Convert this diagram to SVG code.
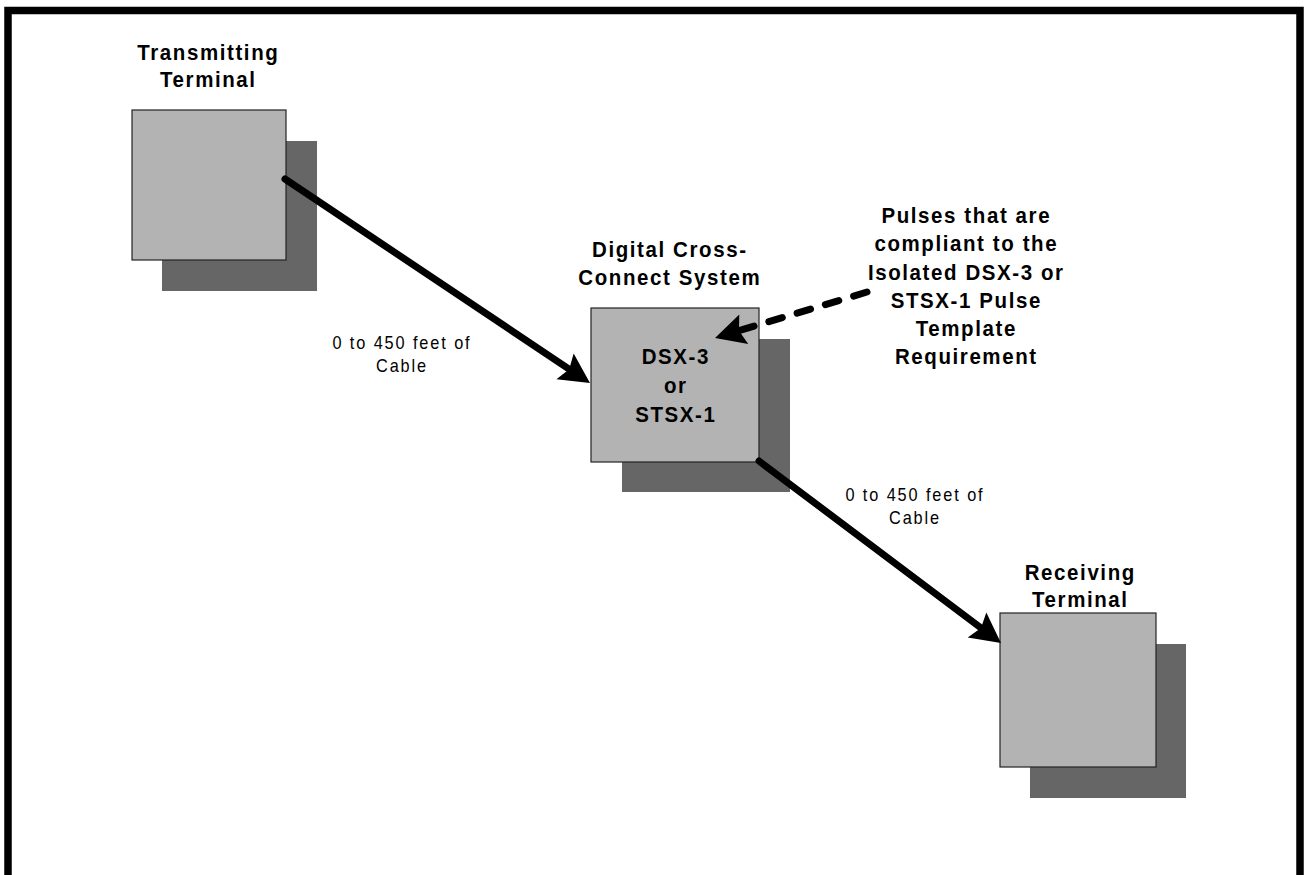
<svg xmlns="http://www.w3.org/2000/svg" width="1304" height="875" viewBox="0 0 1304 875">
  <style>
    .frame { fill: none; stroke: #000; stroke-width: 7.5; }
    .shadow { fill: #666666; }
    .box { fill: #b3b3b3; stroke: #222; stroke-width: 1.2; }
    .t { font-family: "Liberation Sans", Arial, Helvetica, sans-serif; font-weight: bold; font-size: 20.5px; letter-spacing: 1.6px; text-anchor: middle; fill: #000; }
    .l { font-family: "Liberation Sans", Arial, Helvetica, sans-serif; font-weight: normal; font-size: 16.3px; letter-spacing: 1.9px; text-anchor: middle; fill: #000; }
    .wire { fill: none; stroke: #000; stroke-width: 7; stroke-linecap: round; }
    .dash { stroke-dasharray: 14 15.5; }
  </style>
  <defs>
    <marker id="head" markerUnits="userSpaceOnUse" viewBox="-10 -17 34 34" refX="0" refY="0" markerWidth="34" markerHeight="34" orient="auto">
      <path d="M22,0 L-8,-15.5 L-3,0 L-8,15.5 Z" fill="#000"/>
    </marker>
  </defs>
  <rect width="1304" height="875" fill="#fff"/>
  <rect class="frame" x="8" y="10.5" width="1292" height="900"/>

  <g id="transmitting-terminal">
    <rect class="shadow" x="162" y="141" width="155" height="150"/>
    <rect class="box" x="132" y="110" width="154" height="150"/>
    <text class="t" transform="translate(208.3,60) scale(1,1.1)"><tspan x="0" y="0">Transmitting</tspan><tspan x="0" dy="24.5">Terminal</tspan></text>
  </g>

  <g id="dcs">
    <rect class="shadow" x="622" y="339" width="168" height="153"/>
    <rect class="box" x="591" y="308" width="168" height="154"/>
    <text class="t" transform="translate(669.8,256.7) scale(1,1.1)"><tspan x="0" y="0">Digital Cross-</tspan><tspan x="0" dy="25.7">Connect System</tspan></text>
    <text class="t" transform="translate(675.8,364) scale(1,1.1)"><tspan x="0" y="0">DSX-3</tspan><tspan x="0" dy="26.2">or</tspan><tspan x="0" dy="26.2">STSX-1</tspan></text>
  </g>

  <g id="receiving-terminal">
    <rect class="shadow" x="1030" y="644" width="156" height="154"/>
    <rect class="box" x="1000" y="613" width="156" height="154"/>
    <text class="t" transform="translate(1080.3,580) scale(1,1.1)"><tspan x="0" y="0">Receiving</tspan><tspan x="0" dy="24.5">Terminal</tspan></text>
  </g>

  <g id="pulses-note">
    <text class="t" transform="translate(966.3,223.3) scale(1,1.1)"><tspan x="0" y="0">Pulses that are</tspan><tspan x="0" dy="25.6">compliant to the</tspan><tspan x="0" dy="25.6">Isolated DSX-3 or</tspan><tspan x="0" dy="25.6">STSX-1 Pulse</tspan><tspan x="0" dy="25.6">Template</tspan><tspan x="0" dy="25.6">Requirement</tspan></text>
  </g>

  <g id="connectors">
    <path class="wire" d="M285,179 L571.7,370.8" marker-end="url(#head)"/>
    <path class="wire" d="M759,461 L983.4,629.8" marker-end="url(#head)"/>
    <path class="wire dash" d="M867,292 L736.1,331.6" marker-end="url(#head)"/>
    <text class="l" transform="translate(402,349.3) scale(1,1.15)"><tspan x="0" y="0">0 to 450 feet of</tspan><tspan x="0" dy="19.8">Cable</tspan></text>
    <text class="l" transform="translate(915,500.7) scale(1,1.15)"><tspan x="0" y="0">0 to 450 feet of</tspan><tspan x="0" dy="20.2">Cable</tspan></text>
  </g>
</svg>
